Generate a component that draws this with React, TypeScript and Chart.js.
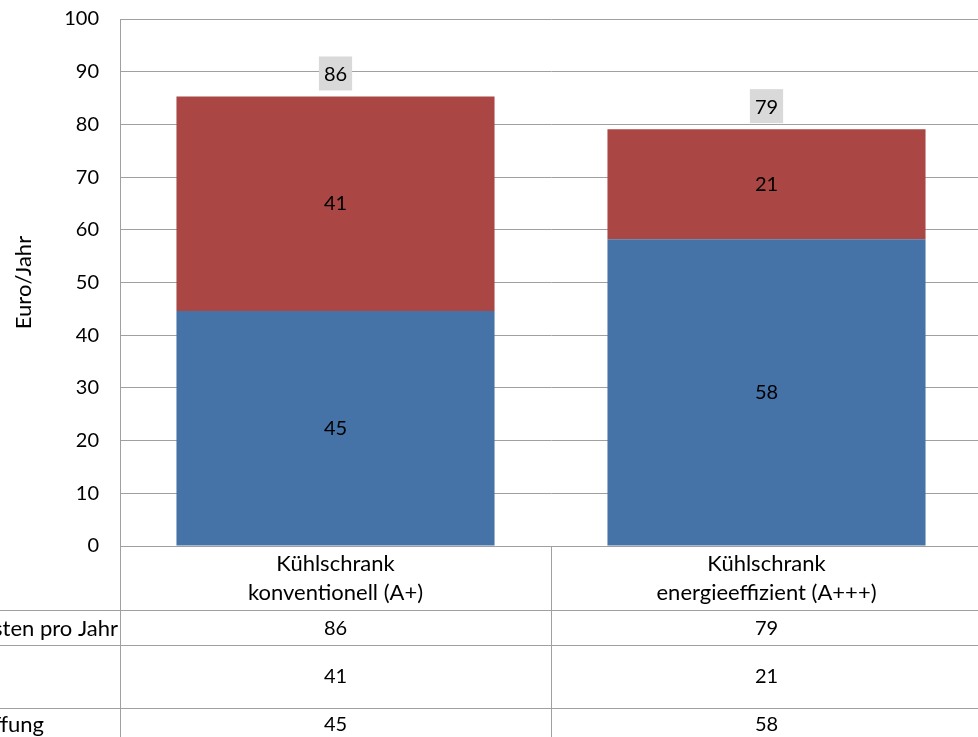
import React, { useEffect, useRef } from "react";
import { Chart, registerables } from "chart.js";

Chart.register(...registerables);

// ---- data ----
const categoryLines: string[][] = [
  ["Kühlschrank", "konventionell (A+)"],
  ["Kühlschrank", "energieeffizient (A+++)"],
];
const anschaffung: number[] = [44.6, 58.2];
const stromkosten: number[] = [40.7, 20.9];
const gesamtkosten: number[] = [86, 79];
const rowLabels: string[] = ["Gesamtkosten pro Jahr", "", "Anschaffung"];
const yTickValues: number[] = [0, 10, 20, 30, 40, 50, 60, 70, 80, 90, 100];
const yTitle = "Euro/Jahr";

const FONT = "Lato, 'Open Sans', sans-serif";
const NUM_FONT = `20px ${FONT}`;
const TEXT_FONT = `22px ${FONT}`;
const LINE = "#A0A0A0";
const BLUE = "#4572A7";
const RED = "#AA4643";

const CANVAS_W = 1000;
const CANVAS_H = 737;

const labelsPlugin = {
  id: "labelsAndTable",
  afterDraw(chart: any) {
    const ctx = chart.ctx as CanvasRenderingContext2D;
    const area = chart.chartArea;
    const xs = chart.scales.x;
    ctx.save();
    ctx.font = NUM_FONT;
    ctx.textAlign = "center";
    ctx.textBaseline = "middle";

    // value labels centred in each segment
    chart.data.datasets.forEach((ds: any, di: number) => {
      const meta = chart.getDatasetMeta(di);
      meta.data.forEach((bar: any, i: number) => {
        const p = bar.getProps(["x", "y", "base"], true);
        ctx.fillStyle = "#000";
        ctx.fillText(String(Math.round(ds.data[i])), p.x, (p.y + p.base) / 2);
      });
    });

    // total labels above stacks
    const topMeta = chart.getDatasetMeta(chart.data.datasets.length - 1);
    topMeta.data.forEach((bar: any, i: number) => {
      const p = bar.getProps(["x", "y"], true);
      const cy = p.y - 23;
      const text = String(gesamtkosten[i]);
      const w = ctx.measureText(text).width + 10;
      ctx.fillStyle = "#D9D9D9";
      ctx.fillRect(p.x - w / 2, cy - 17, w, 34);
      ctx.fillStyle = "#000";
      ctx.fillText(text, p.x, cy + 1);
    });

    // data table
    const bottom = area.bottom;
    const rowLines = [bottom + 64, bottom + 99, bottom + 162];
    ctx.strokeStyle = LINE;
    ctx.lineWidth = 1;
    ctx.beginPath();
    rowLines.forEach((y) => {
      ctx.moveTo(0, Math.round(y) + 0.5);
      ctx.lineTo(CANVAS_W, Math.round(y) + 0.5);
    });
    const n = categoryLines.length;
    const verticals: number[] = [area.left];
    for (let i = 0; i < n - 1; i++) {
      verticals.push((xs.getPixelForValue(i) + xs.getPixelForValue(i + 1)) / 2);
    }
    verticals.forEach((x) => {
      ctx.moveTo(Math.round(x) + 0.5, bottom);
      ctx.lineTo(Math.round(x) + 0.5, CANVAS_H);
    });
    ctx.stroke();

    ctx.fillStyle = "#000";
    ctx.textAlign = "center";
    ctx.font = TEXT_FONT;
    categoryLines.forEach((lines, i) => {
      const cx = xs.getPixelForValue(i);
      lines.forEach((t, li) => ctx.fillText(t, cx, bottom + 18 + li * 29));
    });

    ctx.font = NUM_FONT;
    const rowY = [bottom + 82.5, bottom + 130.5, bottom + 178.5];
    const rows = [
      gesamtkosten,
      stromkosten.map((v) => Math.round(v)),
      anschaffung.map((v) => Math.round(v)),
    ];
    rows.forEach((vals, r) => {
      vals.forEach((v, i) => {
        ctx.fillText(String(v), xs.getPixelForValue(i), rowY[r]);
      });
    });
    ctx.font = TEXT_FONT;
    ctx.textAlign = "right";
    ctx.fillText(rowLabels[0], area.left - 2, rowY[0]);
    ctx.fillText(rowLabels[2], 44, rowY[2]);
    ctx.restore();
  },
};

export default function App() {
  const ref = useRef<HTMLCanvasElement | null>(null);
  useEffect(() => {
    if (!ref.current) return;
    const chart = new Chart(ref.current, {
      type: "bar",
      data: {
        labels: categoryLines.map((l) => l.join(" ")),
        datasets: [
          {
            label: "Anschaffung",
            data: anschaffung,
            backgroundColor: BLUE,
            borderWidth: 0,
            barPercentage: 0.738,
            categoryPercentage: 1,
          },
          {
            label: "Stromkosten",
            data: stromkosten,
            backgroundColor: RED,
            borderWidth: 0,
            barPercentage: 0.738,
            categoryPercentage: 1,
          },
        ],
      },
      options: {
        responsive: false,
        maintainAspectRatio: false,
        devicePixelRatio: 1,
        animation: false,
        layout: { padding: { left: 0, right: CANVAS_W - 982, top: 19, bottom: CANVAS_H - 546 } },
        plugins: {
          legend: { display: false },
          tooltip: { enabled: false },
          title: { display: false },
        },
        scales: {
          x: {
            stacked: true,
            grid: { display: false, drawTicks: false },
            border: { display: true, color: LINE, width: 1 },
            ticks: { display: false },
          },
          y: {
            stacked: true,
            min: 0,
            max: 100,
            afterBuildTicks: (scale: any) => {
              scale.ticks = yTickValues.map((v) => ({ value: v }));
            },
            afterFit: (scale: any) => {
              scale.width = 120;
              scale.paddingTop = 0;
              scale.paddingBottom = 0;
            },
            grid: { color: LINE, lineWidth: 1, drawTicks: false },
            border: { display: true, color: LINE, width: 1 },
            ticks: {
              padding: 21,
              color: "#000",
              font: { family: FONT, size: 20 },
            },
            title: {
              display: true,
              text: yTitle,
              color: "#000",
              font: { family: FONT, size: 22 },
              padding: { top: 11, bottom: 0 },
            },
          },
        },
      },
      plugins: [labelsPlugin],
    });
    return () => chart.destroy();
  }, []);
  return (
    <div
      style={{
        position: "absolute",
        left: 0,
        top: 0,
        width: 978,
        height: 737,
        overflow: "hidden",
        background: "#fff",
      }}
    >
      <canvas ref={ref} width={CANVAS_W} height={CANVAS_H} style={{ display: "block" }} />
    </div>
  );
}
